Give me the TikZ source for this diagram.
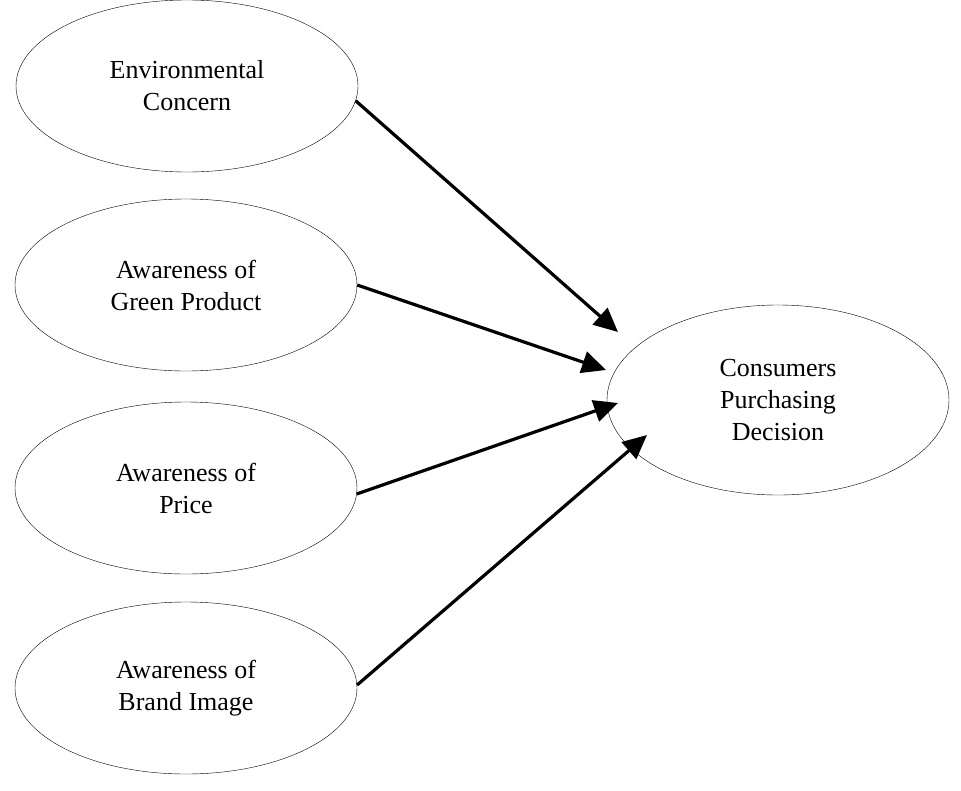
\documentclass[tikz,border=0pt]{standalone}
\usepackage{fontspec}
\setmainfont{Liberation Serif}
\usetikzlibrary{shapes.geometric,arrows.meta}

\begin{document}
\begin{tikzpicture}[x=1pt, y=-1pt,
  factor/.style={draw, ellipse, minimum width=342pt, minimum height=172pt, inner sep=0pt,
    align=center, font=\fontsize{26}{32}\selectfont},
  path/.style={line width=3.2pt, -{Triangle[length=24pt,width=22pt]}}]
\useasboundingbox (0,0) rectangle (961,790);

\node[factor] (EC) at (187,86) {Environmental\\Concern};
\node[factor] (GP) at (186,285) {Awareness of\\Green Product};
\node[factor] (PR) at (186,488) {Awareness of\\Price};
\node[factor] (BI) at (186,688) {Awareness of\\Brand Image};
\node[factor, minimum width=342pt, minimum height=190pt] (CPD) at (778,400) {Consumers\\Purchasing\\Decision};

\coordinate (t1) at (618,332);
\coordinate (t2) at (606,370);
\coordinate (t3) at (618,403);
\coordinate (t4) at (647,435);

\draw[path] (EC.-5) -- (t1);
\draw[path] (GP.0) -- (t2);
\draw[path] (PR.-2) -- (t3);
\draw[path] (BI.1) -- (t4);
\end{tikzpicture}
\end{document}
